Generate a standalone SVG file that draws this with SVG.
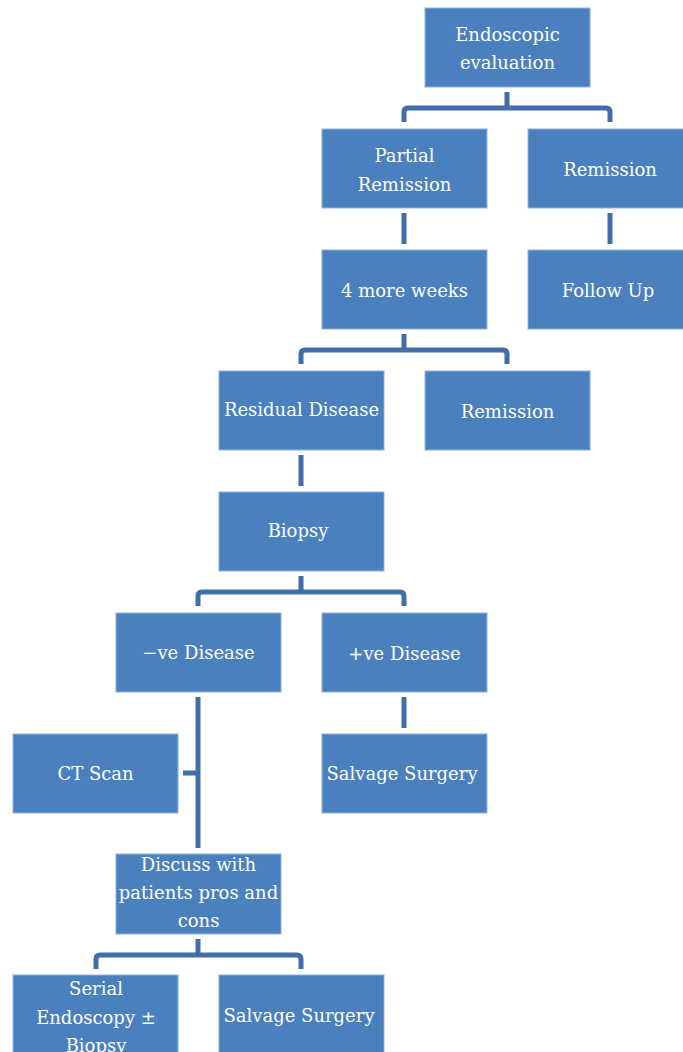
<svg xmlns="http://www.w3.org/2000/svg" width="683" height="1052" viewBox="0 0 683 1052">
<style>
.box{fill:#4a80bd;stroke:#8fb0da;stroke-width:1}
.t{font-family:"DejaVu Serif","Liberation Serif",serif;font-size:18px;fill:#ffffff;text-anchor:middle;dominant-baseline:central}
.c{fill:none;stroke:#3f6fa6;stroke-width:5;stroke-linejoin:round}
</style>
<rect width="683" height="1052" fill="#ffffff"/>
<g id="connectors">
<path class="c" d="M507,92 V108 M404,122 V112 Q404,108 408,108 H606 Q610,108 610,112 V122"/>
<path class="c" d="M404,213 V244"/>
<path class="c" d="M610,213 V244"/>
<path class="c" d="M404,334 V350 M301,364 V354 Q301,350 305,350 H503 Q507,350 507,354 V364"/>
<path class="c" d="M301,455 V486"/>
<path class="c" d="M301,576 V592 M198,606 V596 Q198,592 202,592 H400 Q404,592 404,596 V606"/>
<path class="c" d="M404,697 V728"/>
<path class="c" d="M198,697 V848 M183,773 H198"/>
<path class="c" d="M198,939 V955 M96,969 V959 Q96,955 100,955 H297 Q301,955 301,959 V969"/>
</g>
<g id="n1"><rect class="box" x="425" y="8" width="165" height="79"/><text class="t" x="507.5" y="34">Endoscopic</text><text class="t" x="507.5" y="62">evaluation</text></g>
<g id="n2"><rect class="box" x="322" y="129" width="165" height="79"/><text class="t" x="404.5" y="155">Partial</text><text class="t" x="404.5" y="184">Remission</text></g>
<g id="n3"><rect class="box" x="528" y="129" width="165" height="79"/><text class="t" x="610" y="169">Remission</text></g>
<g id="n4"><rect class="box" x="322" y="250" width="165" height="79"/><text class="t" x="404.5" y="290">4 more weeks</text></g>
<g id="n5"><rect class="box" x="528" y="250" width="165" height="79"/><text class="t" x="608" y="290">Follow Up</text></g>
<g id="n6"><rect class="box" x="219" y="371" width="165" height="79"/><text class="t" x="301.5" y="409">Residual Disease</text></g>
<g id="n7"><rect class="box" x="425" y="371" width="165" height="79"/><text class="t" x="507.5" y="411">Remission</text></g>
<g id="n8"><rect class="box" x="219" y="492" width="165" height="79"/><text class="t" x="298" y="530">Biopsy</text></g>
<g id="n9"><rect class="box" x="116" y="613" width="165" height="79"/><text class="t" x="198.5" y="652">−ve Disease</text></g>
<g id="n10"><rect class="box" x="322" y="613" width="165" height="79"/><text class="t" x="404.5" y="653">+ve Disease</text></g>
<g id="n11"><rect class="box" x="13" y="734" width="165" height="79"/><text class="t" x="95.5" y="773">CT Scan</text></g>
<g id="n12"><rect class="box" x="322" y="734" width="165" height="79"/><text class="t" x="402" y="773">Salvage Surgery</text></g>
<g id="n13"><rect class="box" x="116" y="854" width="165" height="80"/><text class="t" x="198.5" y="864">Discuss with</text><text class="t" x="198.5" y="892">patients pros and</text><text class="t" x="198.5" y="920">cons</text></g>
<g id="n14"><rect class="box" x="13" y="975" width="165" height="80"/><text class="t" x="96" y="988">Serial</text><text class="t" x="96" y="1017">Endoscopy ±</text><text class="t" x="96" y="1045">Biopsy</text></g>
<g id="n15"><rect class="box" x="219" y="975" width="165" height="80"/><text class="t" x="299" y="1015">Salvage Surgery</text></g>
</svg>
